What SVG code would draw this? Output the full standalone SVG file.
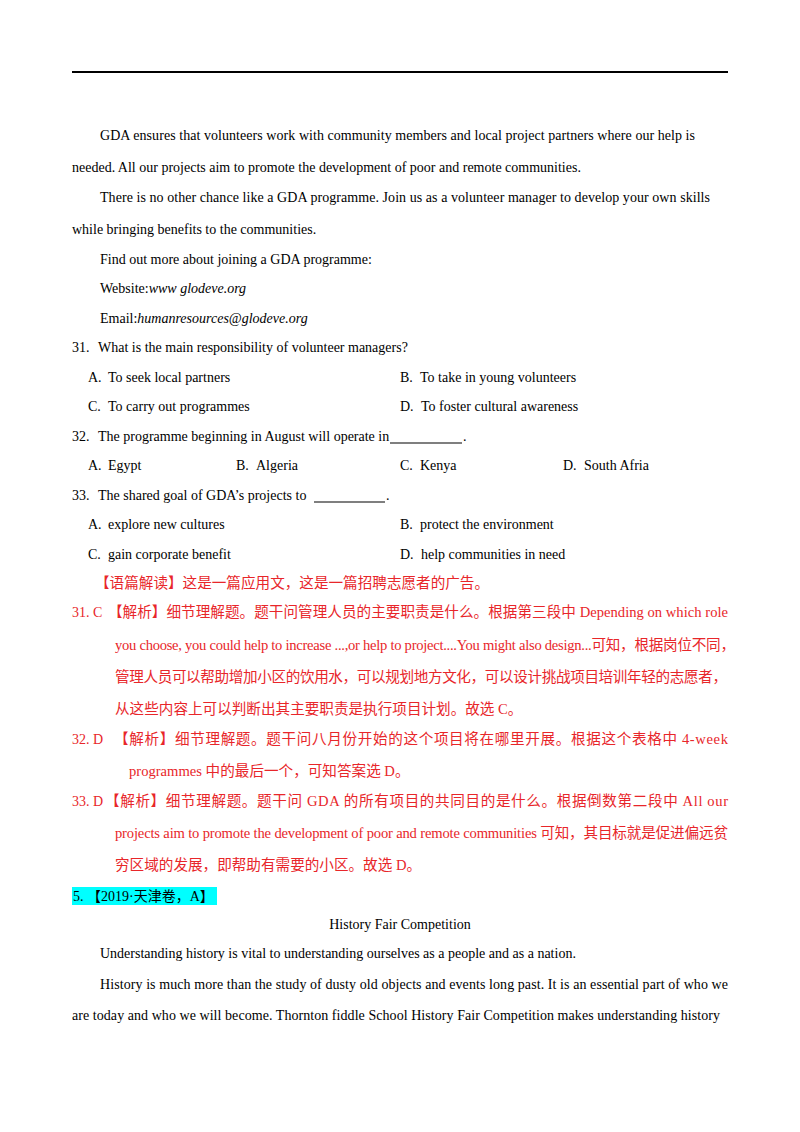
<svg xmlns="http://www.w3.org/2000/svg" width="800" height="1132" viewBox="0 0 800 1132">
<style>
text{font-family:"Liberation Serif","Noto Sans CJK SC",serif;font-size:14px;fill:#000}
.r{fill:#e8262a}
.c{font-size:14.6px}
</style>
<rect width="800" height="1132" fill="#fff"/>
<line x1="72" y1="72" x2="728" y2="72" stroke="#000" stroke-width="2"/>
<text x="100" y="140" textLength="595" lengthAdjust="spacing">GDA ensures that volunteers work with community members and local project partners where our help is</text>
<text x="72" y="172">needed. All our projects aim to promote the development of poor and remote communities.</text>
<text x="100" y="202" textLength="610" lengthAdjust="spacing">There is no other chance like a GDA programme. Join us as a volunteer manager to develop your own skills</text>
<text x="72" y="234">while bringing benefits to the communities.</text>
<text x="100" y="264">Find out more about joining a GDA programme:</text>
<text x="100" y="293">Website:<tspan font-style="italic">www glodeve.org</tspan></text>
<text x="100" y="323">Email:<tspan font-style="italic">humanresources@glodeve.org</tspan></text>
<text x="72" y="352">31.</text><text x="98" y="352">What is the main responsibility of volunteer managers?</text>
<text x="88" y="382">A.</text><text x="108" y="382">To seek local partners</text>
<text x="400" y="382">B.</text><text x="420" y="382">To take in young volunteers</text>
<text x="88" y="411">C.</text><text x="108" y="411">To carry out programmes</text>
<text x="400" y="411">D.</text><text x="421" y="411">To foster cultural awareness</text>
<text x="72" y="441">32.</text><text x="98" y="441">The programme beginning in August will operate in</text>
<line x1="390" y1="443" x2="462" y2="443" stroke="#000" stroke-width="1.2"/>
<text x="463" y="441">.</text>
<text x="88" y="470">A.</text><text x="108" y="470">Egypt</text>
<text x="236" y="470">B.</text><text x="256" y="470">Algeria</text>
<text x="400" y="470">C.</text><text x="420" y="470">Kenya</text>
<text x="563" y="470">D.</text><text x="584" y="470">South Afria</text>
<text x="72" y="500">33.</text><text x="98" y="500">The shared goal of GDA’s projects to</text>
<line x1="314" y1="502" x2="385" y2="502" stroke="#000" stroke-width="1.2"/>
<text x="386" y="500">.</text>
<text x="88" y="529">A.</text><text x="108" y="529">explore new cultures</text>
<text x="400" y="529">B.</text><text x="420" y="529">protect the environment</text>
<text x="88" y="559">C.</text><text x="108" y="559">gain corporate benefit</text>
<text x="400" y="559">D.</text><text x="421" y="559">help communities in need</text>
<g>
<text class="r c" x="95" y="588">【语篇解读】这是一篇应用文，这是一篇招聘志愿者的广告。</text>
<text class="r" x="72" y="617">31. C</text>
<text class="r c" x="108" y="617" textLength="620" lengthAdjust="spacing">【解析】细节理解题。题干问管理人员的主要职责是什么。根据第三段中 Depending on which role</text>
<text class="r c" x="115" y="650" textLength="620" lengthAdjust="spacing">you choose, you could help to increase ...,or help to project....You might also design...可知，根据岗位不同，</text>
<text class="r c" x="115" y="682" textLength="612" lengthAdjust="spacing">管理人员可以帮助增加小区的饮用水，可以规划地方文化，可以设计挑战项目培训年轻的志愿者，</text>
<text class="r c" x="115" y="714">从这些内容上可以判断出其主要职责是执行项目计划。故选 C。</text>
<text class="r" x="72" y="744">32. D</text>
<text class="r c" x="114" y="744" textLength="614" lengthAdjust="spacing">【解析】细节理解题。题干问八月份开始的这个项目将在哪里开展。根据这个表格中 4-week</text>
<text class="r c" x="129" y="776">programmes 中的最后一个，可知答案选 D。</text>
<text class="r" x="72" y="806">33. D</text>
<text class="r c" x="105" y="806" textLength="623" lengthAdjust="spacing">【解析】细节理解题。题干问 GDA 的所有项目的共同目的是什么。根据倒数第二段中 All our</text>
<text class="r c" x="115" y="838" textLength="613" lengthAdjust="spacing">projects aim to promote the development of poor and remote communities 可知，其目标就是促进偏远贫</text>
<text class="r c" x="115" y="870">穷区域的发展，即帮助有需要的小区。故选 D。</text>
</g>
<rect x="72" y="887" width="145" height="18" fill="#00ffff"/>
<text x="73" y="901">5. 【2019·天津卷，A】</text>
<text x="400" y="929" text-anchor="middle">History Fair Competition</text>
<text x="100" y="958">Understanding history is vital to understanding ourselves as a people and as a nation.</text>
<text x="100" y="989" textLength="628" lengthAdjust="spacing">History is much more than the study of dusty old objects and events long past. It is an essential part of who we</text>
<text x="72" y="1020" textLength="648" lengthAdjust="spacing">are today and who we will become. Thornton fiddle School History Fair Competition makes understanding history</text>
</svg>
